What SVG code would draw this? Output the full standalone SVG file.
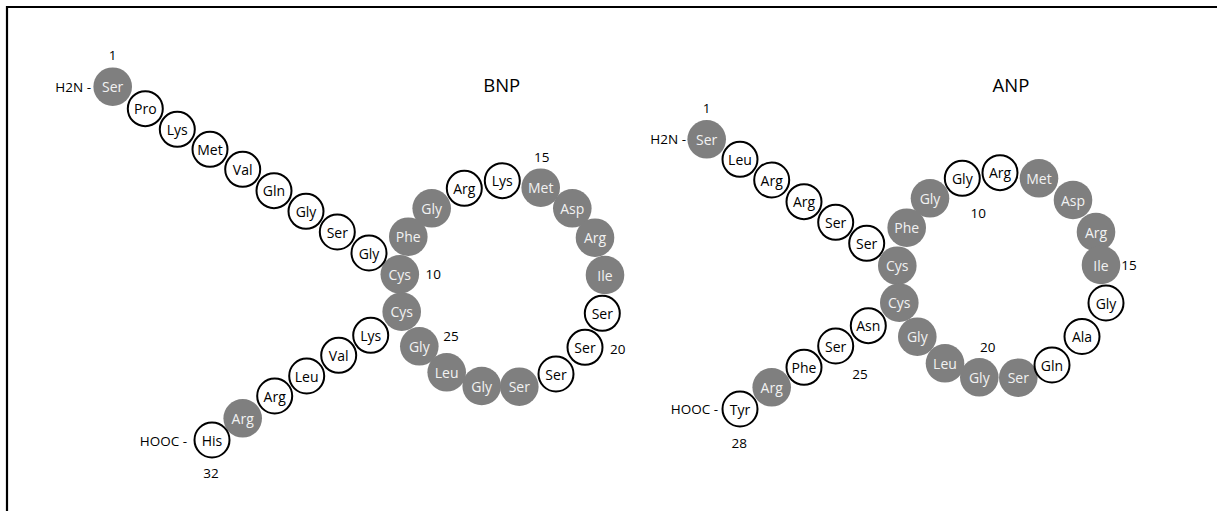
<svg xmlns="http://www.w3.org/2000/svg" width="1217" height="511" viewBox="0 0 1217 511">
<style>
text{font-family:"Open Sans","Noto Sans","Liberation Sans",sans-serif;font-size:14px;text-anchor:middle;dominant-baseline:central}
.f{fill:#7f7f7f}
.o{fill:#fff;stroke:#000;stroke-width:2}
.f+text{fill:#f2f2f2}
.o+text{fill:#000}
.lb{fill:#000;font-size:13.5px}
.ttl{font-size:18.5px}
.l{text-anchor:end}
</style>
<rect width="1217" height="511" fill="#fff"/>
<path d="M7 511V7H1217" fill="none" stroke="#000" stroke-width="2.2"/>
<g id="labels">
<text class="lb ttl" x="501.7" y="84">BNP</text>
<text class="lb ttl" x="1011" y="84">ANP</text>
<text class="lb" x="112.7" y="55">1</text>
<text class="lb l" x="91" y="87">H2N -</text>
<text class="lb" x="541.7" y="157">15</text>
<text class="lb" x="433.3" y="274.3">10</text>
<text class="lb" x="451" y="336">25</text>
<text class="lb" x="617.7" y="349.3">20</text>
<text class="lb l" x="187" y="440.7">HOOC -</text>
<text class="lb" x="211" y="472.7">32</text>
<text class="lb" x="706.7" y="107.7">1</text>
<text class="lb l" x="686" y="139.3">H2N -</text>
<text class="lb" x="978.3" y="213.3">10</text>
<text class="lb" x="1129" y="265">15</text>
<text class="lb" x="987.7" y="346.7">20</text>
<text class="lb" x="860" y="374.3">25</text>
<text class="lb l" x="718" y="409.3">HOOC -</text>
<text class="lb" x="739.3" y="442.7">28</text>
</g>
<g id="bnp">
<g id="b1"><circle class="f" cx="112.7" cy="86.7" r="19.3"/><text x="112.7" y="86.7">Ser</text></g>
<g id="b9"><circle class="f" cx="408.3" cy="236.7" r="19.3"/><text x="408.3" y="236.7">Phe</text></g>
<g id="b10"><circle class="f" cx="399.8" cy="274.3" r="19.3"/><text x="399.8" y="274.3">Cys</text></g>
<g id="b8"><circle class="f" cx="431.7" cy="208.3" r="19.3"/><text x="431.7" y="208.3">Gly</text></g>
<g id="b15"><circle class="f" cx="540.7" cy="187.7" r="19.3"/><text x="540.7" y="187.7">Met</text></g>
<g id="b16"><circle class="f" cx="572.3" cy="208.3" r="19.3"/><text x="572.3" y="208.3">Asp</text></g>
<g id="b17"><circle class="f" cx="595" cy="237.7" r="19.3"/><text x="595" y="237.7">Arg</text></g>
<g id="b18"><circle class="f" cx="605" cy="275" r="19.3"/><text x="605" y="275">Ile</text></g>
<g id="b22"><circle class="f" cx="519.3" cy="386.7" r="19.3"/><text x="519.3" y="386.7">Ser</text></g>
<g id="b23"><circle class="f" cx="481.7" cy="386" r="19.3"/><text x="481.7" y="386">Gly</text></g>
<g id="b24"><circle class="f" cx="446.7" cy="372.3" r="19.3"/><text x="446.7" y="372.3">Leu</text></g>
<g id="b25"><circle class="f" cx="419.3" cy="346.3" r="19.3"/><text x="419.3" y="346.3">Gly</text></g>
<g id="b26"><circle class="f" cx="401.7" cy="311.7" r="19.3"/><text x="401.7" y="311.7">Cys</text></g>
<g id="b31"><circle class="f" cx="242.7" cy="418.3" r="19.3"/><text x="242.7" y="418.3">Arg</text></g>
<g id="b2"><circle class="o" cx="145.3" cy="108.7" r="17.5"/><text x="145.3" y="108.7">Pro</text></g>
<g id="b3"><circle class="o" cx="177.3" cy="129.3" r="17.5"/><text x="177.3" y="129.3">Lys</text></g>
<g id="b4"><circle class="o" cx="210" cy="149.3" r="17.5"/><text x="210" y="149.3">Met</text></g>
<g id="b5"><circle class="o" cx="242.7" cy="169.3" r="17.5"/><text x="242.7" y="169.3">Val</text></g>
<g id="b6"><circle class="o" cx="274" cy="190.7" r="17.5"/><text x="274" y="190.7">Gln</text></g>
<g id="b7"><circle class="o" cx="306" cy="211.3" r="17.5"/><text x="306" y="211.3">Gly</text></g>
<g id="b8a"><circle class="o" cx="337.3" cy="232" r="17.5"/><text x="337.3" y="232">Ser</text></g>
<g id="b9a"><circle class="o" cx="369" cy="253" r="17.5"/><text x="369" y="253">Gly</text></g>
<g id="b13"><circle class="o" cx="464.3" cy="188.3" r="17.5"/><text x="464.3" y="188.3">Arg</text></g>
<g id="b14"><circle class="o" cx="502.3" cy="180.7" r="17.5"/><text x="502.3" y="180.7">Lys</text></g>
<g id="b19"><circle class="o" cx="602.3" cy="313.3" r="17.5"/><text x="602.3" y="313.3">Ser</text></g>
<g id="b20"><circle class="o" cx="585" cy="347.3" r="17.5"/><text x="585" y="347.3">Ser</text></g>
<g id="b21"><circle class="o" cx="556" cy="374" r="17.5"/><text x="556" y="374">Ser</text></g>
<g id="b27"><circle class="o" cx="370.7" cy="335.3" r="17.5"/><text x="370.7" y="335.3">Lys</text></g>
<g id="b28"><circle class="o" cx="338.7" cy="355.3" r="17.5"/><text x="338.7" y="355.3">Val</text></g>
<g id="b29"><circle class="o" cx="306.7" cy="376" r="17.5"/><text x="306.7" y="376">Leu</text></g>
<g id="b30"><circle class="o" cx="274.7" cy="396" r="17.5"/><text x="274.7" y="396">Arg</text></g>
<g id="b32"><circle class="o" cx="212" cy="440" r="17.5"/><text x="212" y="440">His</text></g>
</g>
<g id="anp">
<g id="a1"><circle class="f" cx="706.7" cy="139.3" r="19.3"/><text x="706.7" y="139.3">Ser</text></g>
<g id="a8"><circle class="f" cx="906.7" cy="227.7" r="19.3"/><text x="906.7" y="227.7">Phe</text></g>
<g id="a9"><circle class="f" cx="930" cy="198.3" r="19.3"/><text x="930" y="198.3">Gly</text></g>
<g id="a7"><circle class="f" cx="897.3" cy="265.7" r="19.3"/><text x="897.3" y="265.7">Cys</text></g>
<g id="a12"><circle class="f" cx="1039" cy="178.3" r="19.3"/><text x="1039" y="178.3">Met</text></g>
<g id="a13"><circle class="f" cx="1073" cy="200" r="19.3"/><text x="1073" y="200">Asp</text></g>
<g id="a14"><circle class="f" cx="1096" cy="232" r="19.3"/><text x="1096" y="232">Arg</text></g>
<g id="a15"><circle class="f" cx="1101" cy="265" r="19.3"/><text x="1101" y="265">Ile</text></g>
<g id="a19"><circle class="f" cx="1018.3" cy="377.7" r="19.3"/><text x="1018.3" y="377.7">Ser</text></g>
<g id="a20"><circle class="f" cx="979.3" cy="377.3" r="19.3"/><text x="979.3" y="377.3">Gly</text></g>
<g id="a21"><circle class="f" cx="945" cy="363.3" r="19.3"/><text x="945" y="363.3">Leu</text></g>
<g id="a22"><circle class="f" cx="917.3" cy="336.7" r="19.3"/><text x="917.3" y="336.7">Gly</text></g>
<g id="a23"><circle class="f" cx="899.3" cy="302.7" r="19.3"/><text x="899.3" y="302.7">Cys</text></g>
<g id="a27"><circle class="f" cx="771.7" cy="387.3" r="19.3"/><text x="771.7" y="387.3">Arg</text></g>
<g id="a2"><circle class="o" cx="740" cy="159.3" r="17.5"/><text x="740" y="159.3">Leu</text></g>
<g id="a3"><circle class="o" cx="771.7" cy="180" r="17.5"/><text x="771.7" y="180">Arg</text></g>
<g id="a4"><circle class="o" cx="804" cy="201.7" r="17.5"/><text x="804" y="201.7">Arg</text></g>
<g id="a5"><circle class="o" cx="835.7" cy="222.3" r="17.5"/><text x="835.7" y="222.3">Ser</text></g>
<g id="a6"><circle class="o" cx="866.7" cy="243.3" r="17.5"/><text x="866.7" y="243.3">Ser</text></g>
<g id="a10"><circle class="o" cx="962.3" cy="178.3" r="17.5"/><text x="962.3" y="178.3">Gly</text></g>
<g id="a11"><circle class="o" cx="1000" cy="172.7" r="17.5"/><text x="1000" y="172.7">Arg</text></g>
<g id="a16"><circle class="o" cx="1106" cy="303" r="17.5"/><text x="1106" y="303">Gly</text></g>
<g id="a17"><circle class="o" cx="1082" cy="336.5" r="17.5"/><text x="1082" y="336.5">Ala</text></g>
<g id="a18"><circle class="o" cx="1052" cy="365" r="17.5"/><text x="1052" y="365">Gln</text></g>
<g id="a24"><circle class="o" cx="868.3" cy="325.7" r="17.5"/><text x="868.3" y="325.7">Asn</text></g>
<g id="a25"><circle class="o" cx="835.7" cy="346" r="17.5"/><text x="835.7" y="346">Ser</text></g>
<g id="a26"><circle class="o" cx="804" cy="367.3" r="17.5"/><text x="804" y="367.3">Phe</text></g>
<g id="a28"><circle class="o" cx="740" cy="409" r="17.5"/><text x="740" y="409">Tyr</text></g>
</g>
</svg>
